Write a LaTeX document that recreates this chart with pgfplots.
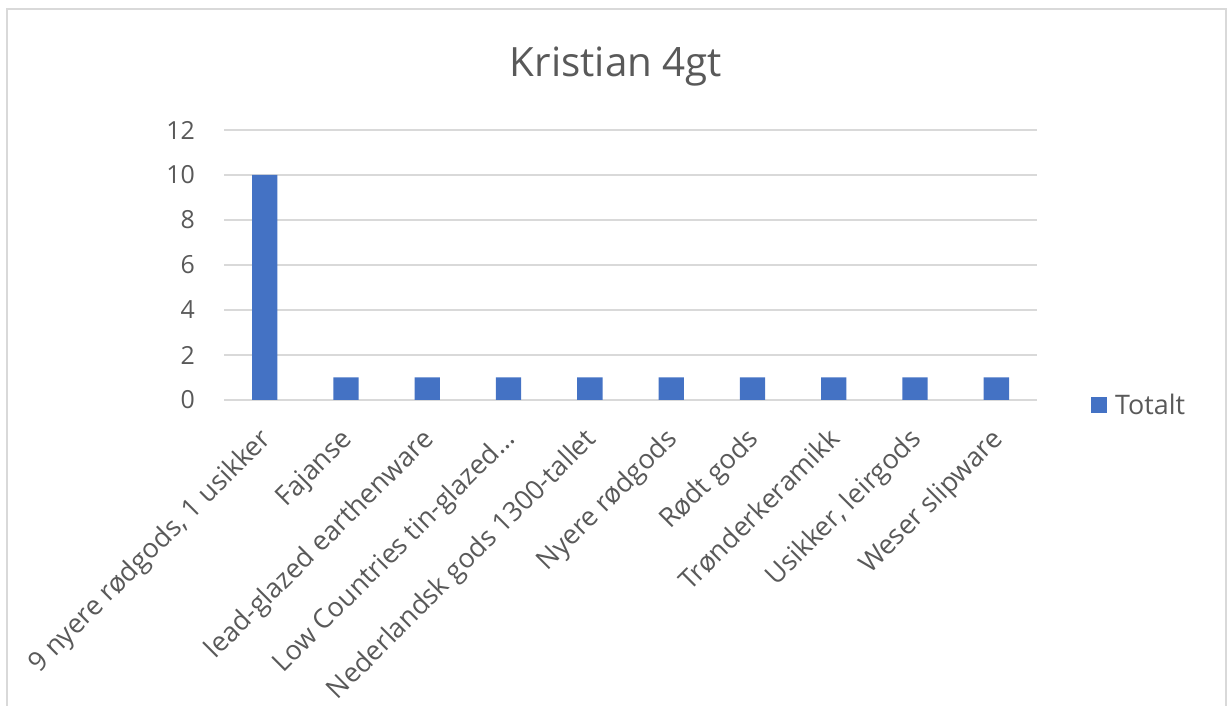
\documentclass[border=0pt]{standalone}
\usepackage{pgfplots}
\pgfplotsset{compat=1.18}
\usepackage{fontspec}
\setmainfont{Open Sans}
\definecolor{txt}{HTML}{595959}
\definecolor{gridc}{HTML}{D9D9D9}
\definecolor{barc}{HTML}{4472C4}
\begin{document}
\begin{tikzpicture}[x=1bp,y=1bp]
\useasboundingbox (0,0) rectangle (1227,706);
\draw[gridc, line width=1.5bp] (7,0) -- (7,697) -- (1226,697) -- (1226,0);
\node[anchor=base, text=txt, font=\fontsize{40.5}{48}\selectfont, inner sep=0pt] at (616,629) {Kristian 4gt};
\begin{axis}[
  at={(224bp,306bp)}, anchor=south west,
  scale only axis, width=813bp, height=270bp,
  xmin=-0.5, xmax=9.5, ymin=0, ymax=12,
  ytick={0,2,...,12}, xtick={0,...,9},
  xticklabels={{9 nyere rødgods, 1 usikker},{Fajanse},{lead-glazed earthenware},{Low Countries tin-glazed…},{Nederlandsk gods 1300-tallet},{Nyere rødgods},{Rødt gods},{Trønderkeramikk},{Usikker, leirgods},{Weser slipware}},
  axis line style={draw=none},
  major tick length=0pt,
  ymajorgrids,
  grid style={gridc, line width=1.5bp},
  /pgf/number format/assume math mode=true,
  tick label style={text=txt},
  yticklabel style={font=\fontsize{25}{30}\selectfont, anchor=east, inner sep=0pt, xshift=-29bp},
  xticklabel style={font=\fontsize{27}{30}\selectfont, xshift=3bp, yshift=-36bp, rotate=45, anchor=east, inner sep=0pt, text height=19bp, text depth=6bp},
  legend style={at={(1.0664,-0.0185)}, anchor=west, draw=none, fill=none, inner sep=0pt,
    font=\fontsize{27}{30}\selectfont, text=txt, column sep=8bp,
    nodes={inner sep=0pt}},
  legend image code/.code={\fill[barc] (0bp,-8bp) rectangle (16bp,8bp);},
]
\addplot[ybar, bar width=25.3bp, bar shift=0pt, fill=barc, draw=none]
  coordinates {(0,10) (1,1) (2,1) (3,1) (4,1) (5,1) (6,1) (7,1) (8,1) (9,1)};
\addlegendentry{Totalt}
\end{axis}
\end{tikzpicture}
\end{document}
